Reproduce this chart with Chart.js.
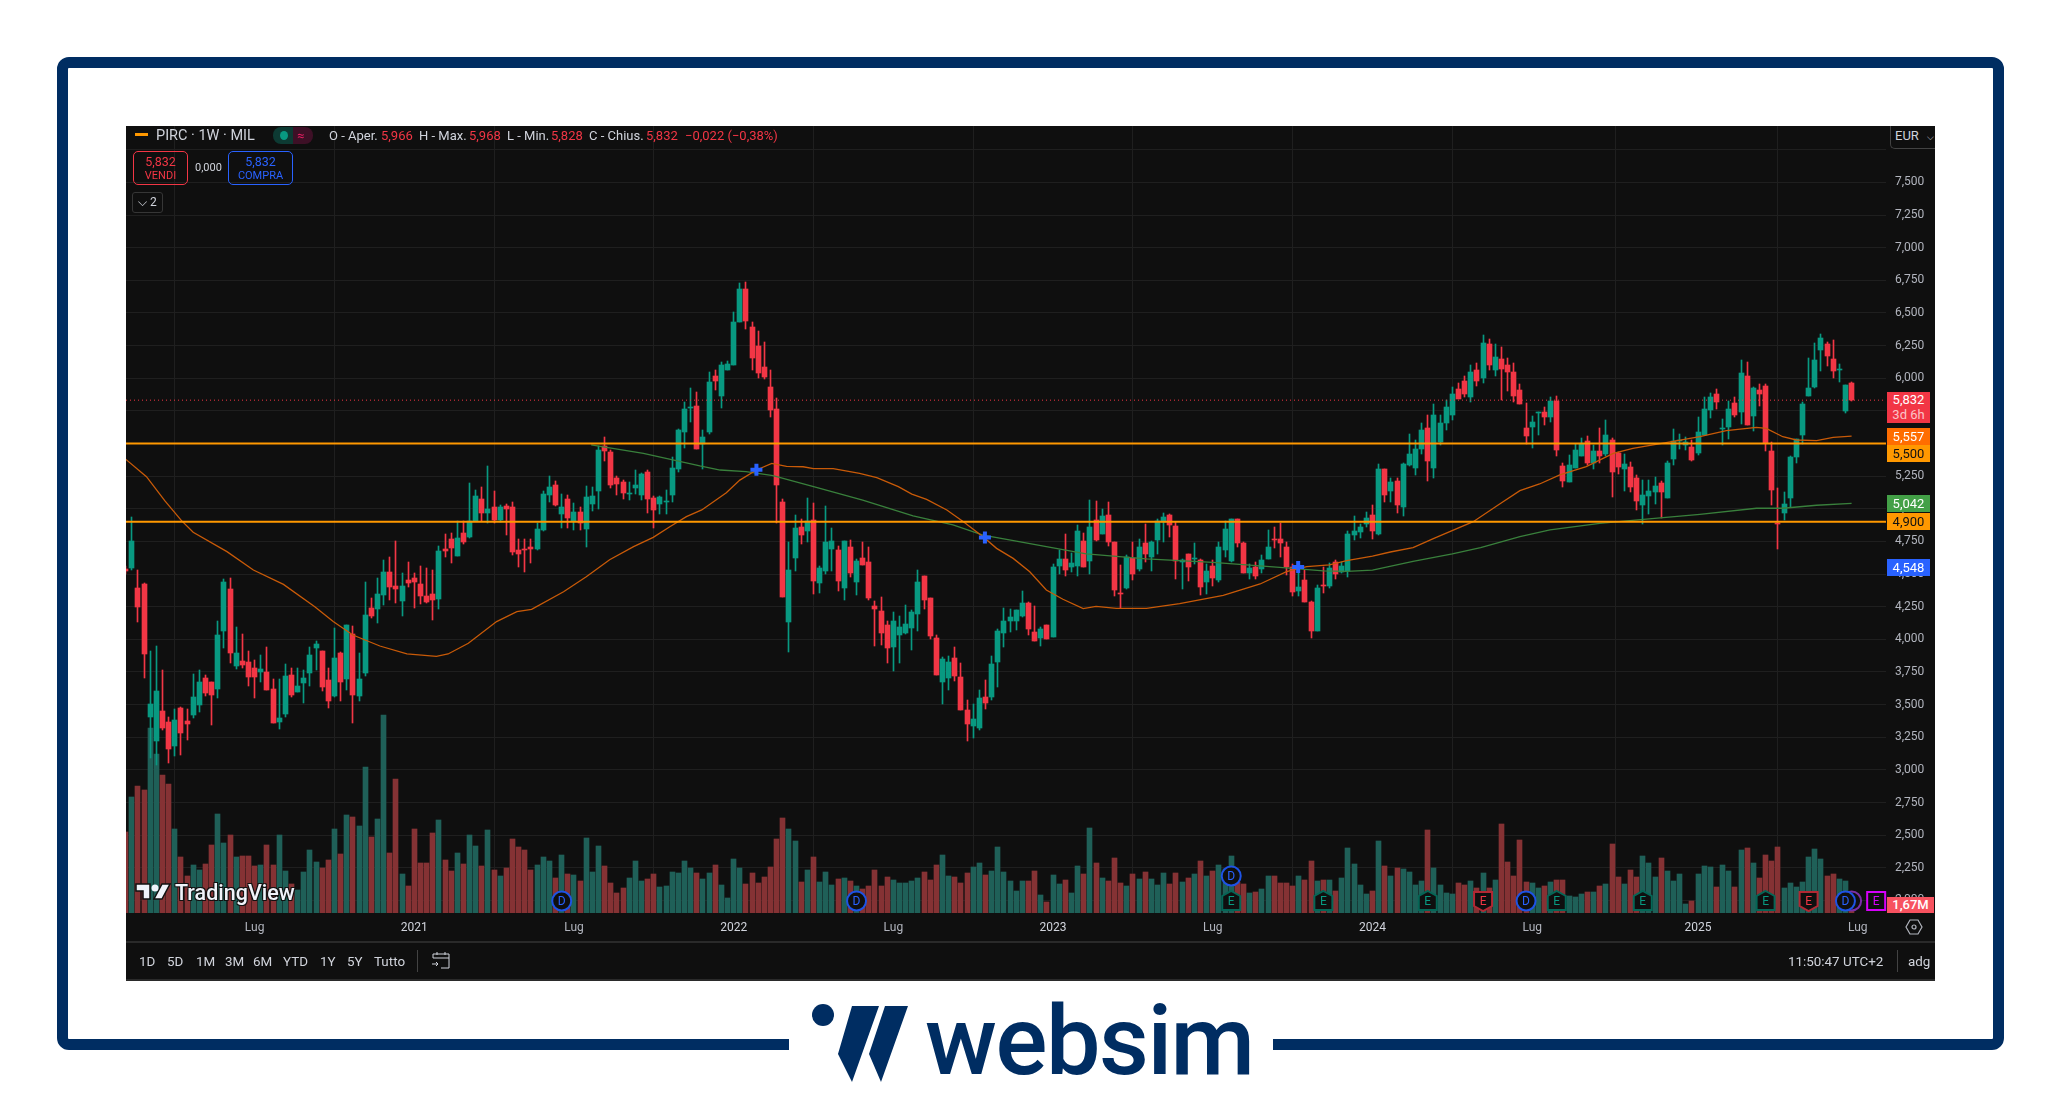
<!DOCTYPE html>
<html>
<head>
<meta charset="utf-8">
<title>PIRC 1W</title>
<script src="https://cdn.jsdelivr.net/npm/chart.js@4/dist/chart.umd.js"></script>
<style>
  html, body { margin: 0; padding: 0; background: #fff; }
  body { position: relative; width: 2061px; height: 1107px; overflow: hidden; font-family: Roboto, sans-serif; }
  .abs { position: absolute; white-space: nowrap; }
  .frame { left: 57px; top: 57px; width: 1947px; height: 993px; box-sizing: border-box; border: 11px solid #002d62; border-radius: 12px; }
  .gap { left: 789px; top: 1030px; width: 484px; height: 30px; background: #fff; }
  .panel { left: 126px; top: 126px; width: 1809px; height: 855px; background: #0f0f0f; }
  #chart { position: absolute; left: 126px; top: 126px; }
  .hd { top: 128px; font-size: 13px; line-height: 15px; color: #d1d4dc; }
  .hd.r { color: #f23645; }
  .tool { top: 954px; font-size: 13.4px; line-height: 15px; color: #d1d4dc; }
  .tag { left: 1887px; width: 43px; text-align: center; font-size: 13px; line-height: 17px; color: #fff; }
  .box { box-sizing: border-box; border-radius: 5px; text-align: center; font-size: 11px; line-height: 13px; padding-top: 3px; }
  .brand { left: 925px; top: 983px; font-size: 97px; line-height: 116px; font-weight: 500; color: #002d62; letter-spacing: -1.5px; }
  .tv { left: 175px; top: 880px; font-size: 21.5px; line-height: 26px; font-weight: 500; color: #f0f3fa; text-shadow: -1px -1px 0 #111, 1px -1px 0 #111, -1px 1px 0 #111, 1px 1px 0 #111; }
</style>
</head>
<body>
<div class="abs frame"></div>
<div class="abs gap"></div>
<div class="abs panel"></div>
<canvas id="chart" width="1809" height="855"></canvas>

<!-- header -->
<svg class="abs" style="left:131px;top:127px" width="22" height="16"><rect x="4" y="6" width="13" height="3" fill="#ff9800"/></svg>
<div class="abs hd" style="left:156px;font-size:14.5px;color:#d1d4dc">PIRC · 1W · MIL</div>
<div class="abs" style="left:273px;top:127px;width:20px;height:17px;background:#0d3a33;border-radius:8px 0 0 8px"></div>
<div class="abs" style="left:293px;top:127px;width:20px;height:17px;background:#3d1026;border-radius:0 8px 8px 0"></div>
<div class="abs" style="left:280px;top:131px;width:8px;height:9px;background:#089981;border-radius:50%"></div>
<div class="abs hd" style="left:297px;color:#e91e63">≈</div>
<div class="abs hd" style="left:329px">O - Aper.</div><div class="abs hd r" style="left:381px">5,966</div>
<div class="abs hd" style="left:419px">H - Max.</div><div class="abs hd r" style="left:469px">5,968</div>
<div class="abs hd" style="left:507px">L - Min.</div><div class="abs hd r" style="left:551px">5,828</div>
<div class="abs hd" style="left:589px">C - Chius.</div><div class="abs hd r" style="left:646px">5,832</div>
<div class="abs hd r" style="left:685px">−0,022 (−0,38%)</div>

<div class="abs box" style="left:133px;top:151px;width:55px;height:34px;border:1px solid #f23645;color:#f23645"><span style="font-size:12.5px">5,832</span><br>VENDI</div>
<div class="abs" style="left:195px;top:161px;font-size:11px;line-height:14px;color:#d1d4dc">0,000</div>
<div class="abs box" style="left:228px;top:151px;width:65px;height:34px;border:1px solid #2962ff;color:#2962ff"><span style="font-size:12.5px">5,832</span><br>COMPRA</div>
<div class="abs box" style="left:132px;top:192px;width:31px;height:21px;border:1px solid #363636;border-radius:3px;color:#d1d4dc;font-size:12px">⌵ 2</div>

<div class="abs" style="left:1890px;top:126px;width:45px;height:23px;box-sizing:border-box;background:#0f0f0f;border:1px solid #434343;border-top:0;border-right:0;border-radius:0 0 0 5px;color:#d1d4dc;font-size:13px;line-height:20px;padding-left:4px">EUR <span style="margin-left:5px;font-size:9px">⌵</span></div>

<!-- price tags -->
<div class="abs tag" style="top:392px;height:31px;background:#f23645;line-height:15px">5,832<br><span style="color:#fbc4c8">3d 6h</span></div>
<div class="abs tag" style="top:428px;height:17px;background:#ff6d00">5,557</div>
<div class="abs tag" style="top:445px;height:17px;background:#ff9800;color:#111">5,500</div>
<div class="abs tag" style="top:495px;height:17px;background:#43a047">5,042</div>
<div class="abs tag" style="top:513px;height:17px;background:#ff9800;color:#111">4,900</div>
<div class="abs tag" style="top:559px;height:17px;background:#2962ff">4,548</div>
<div class="abs tag" style="top:897px;height:16px;width:47px;background:#f7525f;line-height:16px;font-weight:500">1,67M</div>
<svg class="abs" style="left:1905px;top:918px" width="18" height="18"><path d="M5 2 H13 L17 9 L13 16 H5 L1 9 Z" fill="none" stroke="#b2b5be" stroke-width="1.2"/><circle cx="9" cy="9" r="2" fill="none" stroke="#b2b5be" stroke-width="1.2"/></svg>

<!-- tradingview mark -->
<svg class="abs" style="left:135px;top:881px" width="36" height="22"><path d="M1 3 H15 V18 H8 V10 H1 Z M27 3 H35 L27 18 H19 Z" fill="#f0f3fa" stroke="#111" stroke-width="1.5"/><circle cx="20" cy="7" r="3.5" fill="#f0f3fa"/></svg>
<div class="abs tv">TradingView</div>

<!-- bottom toolbar -->
<div class="abs" style="left:126px;top:941px;width:1809px;height:2px;background:#2a2a2a"></div>
<div class="abs" style="left:126px;top:979px;width:1809px;height:2px;background:#2a2a2a"></div>
<div class="abs tool" style="left:139px">1D</div>
<div class="abs tool" style="left:167px">5D</div>
<div class="abs tool" style="left:196px">1M</div>
<div class="abs tool" style="left:225px">3M</div>
<div class="abs tool" style="left:253px">6M</div>
<div class="abs tool" style="left:283px">YTD</div>
<div class="abs tool" style="left:320px">1Y</div>
<div class="abs tool" style="left:347px">5Y</div>
<div class="abs tool" style="left:374px">Tutto</div>
<div class="abs" style="left:417px;top:950px;width:1px;height:22px;background:#434343"></div>
<svg class="abs" style="left:431px;top:951px" width="20" height="19"><path d="M2 7 V3 H18 V17 H10 M2 7 H18 M6 1 V4 M14 1 V4 M1 13 H7 M5 11 L7 13 L5 15" fill="none" stroke="#d1d4dc" stroke-width="1"/></svg>
<div class="abs tool" style="left:1788px">11:50:47 UTC+2</div>
<div class="abs" style="left:1897px;top:950px;width:1px;height:22px;background:#434343"></div>
<div class="abs tool" style="left:1908px">adg</div>

<!-- brand -->
<svg class="abs" style="left:805px;top:1000px" width="110" height="90">
  <circle cx="18" cy="15" r="11" fill="#002d62"/>
  <path d="M47 6 H74 L47 82 L33 54 Z M80 6 H103 L76 82 L64 54 Z" fill="#002d62"/>
</svg>
<div class="abs brand">websim</div>

<script>
const opens = [
  4.54,4.546,4.393,4.424,3.405,3.222,3.451,3.367,3.183,3.474,
  3.375,3.421,3.497,3.704,3.673,3.62,4.064,4.386,3.796,3.834,
  3.827,3.781,3.75,3.75,3.62,3.367,3.428,3.727,3.597,3.666,
  3.742,3.934,3.911,3.689,3.566,3.896,3.696,4.041,3.566,3.742,
  4.24,4.233,4.34,4.516,4.409,4.294,4.455,4.47,4.424,4.332,
  4.347,4.309,4.692,4.768,4.638,4.815,4.784,4.906,5.075,4.965,
  5.016,4.916,5.024,5.016,4.684,4.692,4.705,4.692,4.837,5.105,
  5.182,4.957,5.075,4.906,4.978,4.845,5.037,5.136,5.481,5.435,
  5.236,5.205,5.118,5.159,5.106,5.282,5.083,5.037,5.055,5.106,
  5.305,5.588,5.775,5.787,5.496,5.588,6.017,5.864,6.063,6.101,
  6.431,6.683,6.392,6.247,6.086,5.933,5.764,5.052,4.133,4.623,
  4.861,4.83,4.914,4.432,4.523,4.692,4.684,4.393,4.707,4.439,
  4.623,4.592,4.255,4.217,4.11,3.941,4.034,4.049,4.087,4.194,
  4.485,4.317,4.01,3.673,3.704,3.857,3.712,3.459,3.336,3.321,
  3.559,3.559,3.827,4.049,4.141,4.141,4.179,4.278,4.056,4.01,
  4.11,4.018,4.562,4.615,4.554,4.562,4.753,4.6,4.914,4.807,
  4.953,4.746,4.353,4.393,4.623,4.539,4.738,4.631,4.761,4.899,
  4.953,4.868,4.592,4.654,4.617,4.608,4.439,4.562,4.455,4.684,
  4.6,4.922,4.738,4.508,4.554,4.539,4.616,4.771,4.769,4.707,
  4.554,4.37,4.455,4.286,4.064,4.413,4.409,4.592,4.516,4.523,
  4.799,4.822,4.884,4.953,4.807,5.305,5.136,5.213,5.014,5.335,
  5.312,5.458,5.62,5.312,5.51,5.66,5.72,5.92,5.98,5.86,
  6.06,6.0,6.26,6.06,6.147,6.101,6.048,5.91,5.619,5.626,
  5.737,5.739,5.703,5.826,5.328,5.205,5.312,5.404,5.519,5.351,
  5.443,5.42,5.527,5.427,5.305,5.32,5.236,5.029,5.098,5.129,
  5.198,5.083,5.381,5.525,5.489,5.473,5.427,5.565,5.757,5.879,
  5.617,5.626,5.81,5.741,6.017,5.711,5.91,5.941,5.443,4.888,
  4.968,5.083,5.397,5.565,5.864,5.933,6.216,6.262,6.147,6.069,
  5.749,5.966
];
const highs = [
  4.56,4.935,4.531,4.43,3.91,3.949,3.763,3.403,3.464,3.479,
  3.466,3.735,3.763,3.727,3.673,4.141,4.462,4.47,4.095,4.041,
  3.911,3.842,3.88,3.942,3.696,3.696,3.811,3.778,3.781,3.765,
  3.942,3.987,3.911,3.781,4.087,3.903,4.11,4.102,3.896,4.439,
  4.317,4.47,4.608,4.631,4.753,4.508,4.592,4.508,4.562,4.547,
  4.531,4.715,4.807,4.815,4.906,4.906,5.195,5.144,5.17,5.328,
  5.136,5.03,5.04,5.055,4.766,4.768,4.768,4.889,5.139,5.251,
  5.215,5.112,5.105,5.042,5.016,5.175,5.17,5.483,5.55,5.45,
  5.251,5.22,5.205,5.297,5.274,5.297,5.098,5.098,5.144,5.397,
  5.611,5.818,5.925,5.895,5.604,6.048,6.063,6.124,6.132,6.507,
  6.729,6.737,6.431,6.362,6.277,6.063,5.849,5.075,4.746,4.953,
  4.922,5.083,5.044,4.562,5.021,4.853,4.715,4.753,4.761,4.615,
  4.746,4.707,4.294,4.324,4.141,4.21,4.179,4.263,4.225,4.531,
  4.485,4.317,4.033,3.865,3.873,3.942,3.819,3.536,3.505,3.612,
  3.689,3.873,4.079,4.24,4.233,4.225,4.37,4.286,4.255,4.095,
  4.11,4.577,4.684,4.807,4.661,4.876,4.815,5.067,5.06,5.0,
  5.052,4.746,4.57,4.646,4.746,4.769,4.884,4.753,4.922,4.968,
  4.96,4.899,4.616,4.654,4.738,4.616,4.577,4.608,4.746,4.907,
  4.922,4.922,4.746,4.577,4.592,4.646,4.838,4.861,4.891,4.746,
  4.577,4.57,4.531,4.294,4.416,4.554,4.585,4.608,4.595,4.83,
  4.945,4.884,4.976,5.029,5.343,5.305,5.236,5.236,5.351,5.57,
  5.53,5.66,5.72,5.8,5.72,5.83,5.93,5.96,6.02,6.1,
  6.12,6.33,6.3,6.26,6.242,6.152,6.119,5.956,5.808,5.711,
  5.739,5.777,5.854,5.864,5.348,5.412,5.496,5.542,5.558,5.489,
  5.619,5.68,5.542,5.435,5.42,5.358,5.259,5.221,5.221,5.244,
  5.213,5.366,5.611,5.573,5.547,5.527,5.703,5.854,5.884,5.918,
  5.688,5.826,5.854,6.14,6.124,5.935,5.956,5.956,5.512,5.159,
  5.129,5.404,5.535,5.818,6.155,6.27,6.339,6.277,6.293,6.109,
  5.948,5.968
];
const lows = [
  4.5,4.53,4.133,3.707,3.09,3.038,3.306,3.053,3.107,3.114,
  3.229,3.395,3.444,3.566,3.344,3.551,3.934,3.819,3.773,3.781,
  3.643,3.551,3.673,3.612,3.36,3.314,3.405,3.559,3.597,3.513,
  3.643,3.765,3.604,3.474,3.559,3.528,3.612,3.36,3.528,3.719,
  4.164,4.125,4.263,4.301,4.278,4.179,4.4,4.24,4.271,4.278,
  4.148,4.233,4.631,4.585,4.638,4.73,4.78,4.906,4.91,4.89,
  4.89,4.9,4.8,4.646,4.551,4.516,4.585,4.685,4.83,5.05,
  5.02,4.853,4.853,4.838,4.838,4.71,4.98,5.0,5.366,5.159,
  5.106,5.075,5.067,5.113,5.067,4.968,4.853,4.96,4.96,5.052,
  5.282,5.466,5.665,5.458,5.305,5.573,5.91,5.772,6.063,6.1,
  6.431,6.377,6.063,6.002,5.994,5.703,4.891,4.324,3.903,4.524,
  4.73,4.746,4.347,4.355,4.5,4.524,4.37,4.301,4.478,4.34,
  4.57,4.301,3.949,3.957,3.819,3.757,3.819,4.041,3.918,4.064,
  4.232,4.003,3.727,3.505,3.612,3.681,3.459,3.222,3.244,3.306,
  3.467,3.536,3.635,3.941,4.056,4.072,4.171,4.033,3.987,3.949,
  4.003,4.018,4.5,4.485,4.516,4.485,4.554,4.5,4.753,4.807,
  4.715,4.332,4.24,4.386,4.455,4.524,4.592,4.524,4.654,4.746,
  4.784,4.462,4.386,4.447,4.577,4.34,4.347,4.409,4.439,4.631,
  4.592,4.707,4.508,4.462,4.462,4.508,4.616,4.7,4.631,4.493,
  4.332,4.332,4.286,4.01,4.064,4.355,4.393,4.462,4.508,4.478,
  4.761,4.776,4.861,4.769,4.799,5.052,5.052,4.968,4.945,5.328,
  5.259,5.42,5.213,5.237,5.49,5.6,5.68,5.86,5.86,5.82,
  5.94,5.96,6.06,6.02,5.833,5.9,5.82,5.8,5.499,5.466,
  5.565,5.642,5.665,5.404,5.167,5.205,5.312,5.404,5.335,5.305,
  5.351,5.404,5.09,5.266,5.134,5.129,4.991,4.884,4.96,5.037,
  4.93,5.083,5.335,5.458,5.45,5.366,5.412,5.565,5.695,5.764,
  5.489,5.535,5.703,5.65,5.642,5.596,5.787,5.443,5.029,4.692,
  4.914,5.014,5.351,5.496,5.864,5.925,6.055,6.094,6.0,5.971,
  5.734,5.828
];
const closes = [
  4.52,4.753,4.248,3.888,3.505,3.605,3.321,3.16,3.382,3.283,
  3.352,3.559,3.673,3.587,3.574,4.033,4.439,3.896,3.896,3.804,
  3.712,3.712,3.773,3.612,3.36,3.398,3.719,3.574,3.643,3.704,
  3.88,3.965,3.635,3.528,3.857,3.673,4.11,3.574,3.696,4.187,
  4.179,4.347,4.516,4.401,4.386,4.409,4.432,4.439,4.332,4.286,
  4.301,4.677,4.677,4.7,4.776,4.746,4.906,5.098,4.965,4.998,
  4.914,5.016,4.998,4.672,4.654,4.688,4.69,4.845,5.113,5.164,
  5.029,5.016,4.93,4.978,4.89,5.093,5.098,5.45,5.443,5.182,
  5.19,5.121,5.122,5.182,5.266,5.075,4.991,5.09,5.06,5.312,
  5.604,5.764,5.78,5.458,5.55,5.971,5.979,6.101,6.109,6.431,
  6.683,6.438,6.155,6.04,6.009,5.757,5.182,4.324,4.531,4.853,
  4.799,4.906,4.447,4.546,4.746,4.753,4.447,4.753,4.508,4.6,
  4.57,4.317,4.232,4.049,3.934,4.141,4.095,4.118,4.21,4.439,
  4.301,4.026,3.727,3.85,3.827,3.719,3.459,3.352,3.39,3.551,
  3.513,3.811,4.064,4.141,4.171,4.225,4.278,4.079,3.987,4.079,
  4.003,4.554,4.615,4.531,4.585,4.83,4.554,4.861,4.761,4.945,
  4.746,4.378,4.345,4.631,4.501,4.707,4.654,4.746,4.907,4.937,
  4.876,4.6,4.608,4.554,4.62,4.401,4.523,4.47,4.707,4.845,
  4.922,4.738,4.508,4.547,4.485,4.608,4.707,4.76,4.738,4.554,
  4.363,4.401,4.286,4.064,4.393,4.409,4.547,4.501,4.562,4.807,
  4.83,4.861,4.93,4.83,5.305,5.106,5.205,5.029,5.343,5.42,
  5.458,5.6,5.366,5.72,5.66,5.78,5.88,5.84,5.88,6.05,
  5.98,6.27,6.1,6.16,6.071,6.048,5.864,5.803,5.558,5.665,
  5.741,5.703,5.826,5.45,5.213,5.335,5.45,5.496,5.351,5.443,
  5.404,5.565,5.282,5.32,5.343,5.167,5.06,5.106,5.136,5.175,
  5.129,5.351,5.519,5.529,5.512,5.374,5.588,5.764,5.856,5.818,
  5.621,5.764,5.718,6.04,5.642,5.925,5.879,5.504,5.144,4.88,
  5.037,5.397,5.535,5.803,5.925,6.14,6.308,6.17,6.055,6.073,
  5.948,5.832
];
// volumi in milioni
const volumes = [
  40.3,57.8,63.3,61.3,92.3,79.3,68.8,64.3,41.8,27.8,
  18.3,23.8,21.3,24.3,33.8,49.3,34.8,38.8,27.8,28.3,
  28.3,23.3,23.8,33.8,23.8,38.8,20.8,14.3,11.3,20.3,
  31.3,25.3,22.3,26.3,41.8,29.3,48.8,47.8,43.3,72.8,
  37.8,46.8,98.8,29.8,66.8,19.3,13.3,41.8,24.8,24.8,
  39.8,46.3,26.3,20.8,29.8,24.3,38.8,33.3,23.3,41.3,
  21.3,18.3,22.3,36.8,32.8,31.3,21.3,23.8,27.8,25.8,
  17.3,28.8,19.3,18.8,15.8,37.3,20.3,33.3,23.3,14.8,
  9.8,12.3,17.3,26,16.2,17,19.5,13.2,13.5,20.5,
  20.2,26.2,22.3,19.8,17,20.2,24.2,14,7.7,27,
  22.5,14.3,20.2,15.2,17.8,22.8,37,47.6,42,36,
  15.5,21.5,28,15.5,20.5,14,17,17.5,16,13.5,
  12,13.5,21.5,13.5,18,16.5,15,15,16,17.5,
  20.5,16.5,24,29,18.5,18,15,20,23,25,
  19,21,33,20.5,16,11,16,16,21,9,
  5.5,19,14.5,16.5,10,23.5,19.5,42.5,25,17.5,
  16,27.5,15,13.5,19.5,17,20.5,17,14,20,
  14.5,20,15.5,17.5,19.5,26,18.5,21,24,22,
  28.5,15.5,14.5,10,10.5,12,18.5,18.5,15,15,
  13.5,18.5,16.5,26,16,16.5,16.5,11,17.5,32.5,
  24.5,14,9.5,11,36,23.5,18.5,22.5,22,20.5,
  14,16,41.5,22.5,14,10,9.5,15,14,16,
  12.5,20,12.5,16.5,44.5,25.5,18.5,36.5,15.5,15,
  12.5,13.5,15.5,16.5,16.5,8.5,8,9.5,10.5,10.5,
  13.5,14.5,34.5,18,14.5,21.5,18,28.5,25,18,
  27.5,21,16,19.5,4.5,6,19.5,23.5,23,13,
  24,21,13,31.5,32.5,25,17.5,29,26,33,
  12.5,15,13,15.5,28,32,27,18.5,19.5,17,
  16,1.67
];

// medie mobili lette a punti (indice barra, valore)
const orangeBars = [0,3.4,6.4,9.1,11,16.5,20.8,25.7,30.8,33.8,37,41.4,45.8,50.6,52.5,55.8,60.4,63.7,66.1,71.3,75,78.8,82.7,85.9,88.6,91.3,93.8,97.8,100,102.7,105.2,107.6,110.3,112,115.2,119.5,122.3,125.8,128,130.4,133.7,136.4,139.6,141.8,144.5,147.2,149.9,152.6,155.9,158,161.3,166.2,171.6,178.7,184.7,189,192.3,196,198.8,203,205.9,209.6,213,219.4,223.7,227,230.2,233.5,237.8,242.2,245.4,250.8,256.3,260.6,265.5,267.1,269.8,272,275.3,278,281];
const orangeMa = [5.38,5.246,5.06,4.909,4.82,4.672,4.531,4.421,4.25,4.136,4.033,3.949,3.888,3.87,3.888,3.97,4.136,4.212,4.23,4.365,4.48,4.61,4.71,4.781,4.863,4.94,4.991,5.123,5.22,5.297,5.348,5.325,5.322,5.307,5.307,5.272,5.238,5.17,5.113,5.072,4.991,4.901,4.786,4.697,4.62,4.518,4.378,4.307,4.235,4.253,4.238,4.238,4.273,4.337,4.424,4.518,4.557,4.57,4.603,4.638,4.669,4.702,4.774,4.901,5.037,5.139,5.19,5.259,5.323,5.425,5.463,5.506,5.552,5.598,5.624,5.616,5.552,5.527,5.522,5.547,5.557];
const greenBars = [75.8,84.3,93.5,96.8,101,105.4,112,120,128.2,134.7,139.6,145,149.9,156.4,166.2,177,187.9,195,198.8,203,209.6,216,220.6,227,231.9,240,247.1,256.3,265.5,269.8,275.3,281];
const greenMa = [5.49,5.425,5.328,5.297,5.284,5.254,5.17,5.067,4.945,4.876,4.799,4.753,4.71,4.654,4.616,4.59,4.552,4.524,4.521,4.531,4.598,4.654,4.702,4.786,4.838,4.889,4.919,4.958,5.004,5.004,5.027,5.042];

const crossBars = [102.7, 139.9, 190.9];
const crossValues = [5.3, 4.78, 4.555];
const hLevels = [5.5, 4.9];
const lastPrice = 5.832;

const priceTicks = [2,2.25,2.5,2.75,3,3.25,3.5,3.75,4,4.25,4.5,4.75,5,5.25,5.5,5.75,6,6.25,6.5,6.75,7,7.25,7.5,7.75];
const timeTickBars = [21,47,73,99,125,151,177,203,229,256,282];
const timeTickLabels = ['Lug','2021','Lug','2022','Lug','2023','Lug','2024','Lug','2025','Lug'];

// bar, tipo, riga
const eventBars = [71,119,180,180,195,212,221,228,233,247,267,274,281,280,285];
const eventKinds = ['D','D','D','E','E','E','R','D','E','E','E','R','P','D','M'];
const eventRows = [0,0,1,0,0,0,0,0,0,0,0,0,0,0,0];

const GREEN = '#089981';
const RED = '#f23645';
const BG = '#0f0f0f';
const xMin = 0.065;
const xMax = 286.6;

const isUp = i => closes[i] >= opens[i];
const candleColors = opens.map((_, i) => isUp(i) ? GREEN : RED);
const volumeColors = opens.map((_, i) => isUp(i) ? '#1f6058' : '#853234');
const points = (xs, ys) => xs.map((x, i) => ({ x, y: ys[i] }));

// niente margini per le etichette: il pannello arriva fino al bordo
const noPadding = axis => {
  axis.paddingLeft = axis.paddingRight = axis.paddingTop = axis.paddingBottom = 0;
};

// allinea barre e stoppini ai pixel interi come il grafico originale
const snapBars = {
  id: 'snapBars',
  beforeDatasetsDraw(chart) {
    chart.data.datasets.forEach((ds, d) => {
      if (ds.type !== 'bar') return;
      chart.getDatasetMeta(d).data.forEach(el => {
        el.x = Math.floor(el.x) + 0.5;
        el.y = Math.round(el.y);
        el.base = Math.round(el.base);
        if (el.y === el.base) el.base = el.y + 1;
      });
    });
  }
};

const eventBadges = {
  id: 'eventBadges',
  afterDatasetsDraw(chart) {
    const { ctx, scales } = chart;
    const bottom = chart.chartArea.bottom;
    ctx.save();
    ctx.textAlign = 'center';
    ctx.textBaseline = 'middle';
    ctx.font = '12px Roboto';
    eventBars.forEach((bar, i) => {
      const kind = eventKinds[i];
      const x = scales.x.getPixelForValue(bar);
      const y = bottom - 12 - eventRows[i] * 25;
      ctx.lineWidth = 2;
      ctx.fillStyle = BG;
      ctx.beginPath();
      if (kind === 'D' || kind === 'P') {
        ctx.strokeStyle = kind === 'D' ? '#1e53e5' : '#7b2fa8';
        ctx.arc(x, y, 9.5, 0, Math.PI * 2);
      } else if (kind === 'E') {
        ctx.strokeStyle = '#056656';
        ctx.moveTo(x, y - 10);
        ctx.lineTo(x + 9, y - 5);
        ctx.lineTo(x + 9, y + 9);
        ctx.lineTo(x - 9, y + 9);
        ctx.lineTo(x - 9, y - 5);
        ctx.closePath();
      } else if (kind === 'R') {
        ctx.strokeStyle = '#b22833';
        ctx.moveTo(x - 9, y - 9);
        ctx.lineTo(x + 9, y - 9);
        ctx.lineTo(x + 9, y + 5);
        ctx.lineTo(x, y + 10);
        ctx.lineTo(x - 9, y + 5);
        ctx.closePath();
      } else {
        ctx.strokeStyle = '#d500f9';
        ctx.rect(x - 9, y - 9, 18, 18);
      }
      ctx.fill();
      ctx.stroke();
      if (kind !== 'P') {
        ctx.fillStyle = { D: '#2962ff', E: GREEN, R: RED, M: '#d500f9' }[kind];
        ctx.fillText(kind === 'D' ? 'D' : 'E', x, y + 1);
      }
    });
    ctx.restore();
  }
};

new Chart(document.getElementById('chart').getContext('2d'), {
  type: 'bar',
  plugins: [snapBars, eventBadges],
  data: {
    datasets: [
      {
        type: 'bar', yAxisID: 'vol', order: 10, grouped: false, barThickness: 5,
        data: points(opens.map((_, i) => i), volumes),
        backgroundColor: volumeColors
      },
      {
        type: 'bar', order: 6, grouped: false, barThickness: 1,
        data: opens.map((_, i) => ({ x: i, y: [lows[i], highs[i]] })),
        backgroundColor: candleColors
      },
      {
        type: 'bar', order: 5, grouped: false, barThickness: 5,
        data: opens.map((_, i) => ({ x: i, y: [opens[i], closes[i]] })),
        backgroundColor: candleColors
      },
      {
        type: 'line', order: 4, data: points(orangeBars, orangeMa),
        borderColor: '#c85a08', borderWidth: 1.3, pointRadius: 0
      },
      {
        type: 'line', order: 4, data: points(greenBars, greenMa),
        borderColor: '#39803c', borderWidth: 1.3, pointRadius: 0
      },
      {
        type: 'line', order: 3, data: [{ x: xMin, y: lastPrice }, { x: xMax, y: lastPrice }],
        borderColor: RED, borderWidth: 1, borderDash: [1, 3], pointRadius: 0
      },
      ...hLevels.map(level => ({
        type: 'line', order: 2, data: [{ x: xMin, y: level }, { x: xMax, y: level }],
        borderColor: '#ff9800', borderWidth: 2, pointRadius: 0
      })),
      {
        type: 'line', order: 1, showLine: false, data: points(crossBars, crossValues),
        pointStyle: 'cross', pointRadius: 6, pointBorderWidth: 4, pointBorderColor: '#2962ff'
      }
    ]
  },
  options: {
    responsive: false,
    animation: false,
    devicePixelRatio: 1,
    layout: { padding: 0, autoPadding: false },
    plugins: { legend: { display: false }, tooltip: { enabled: false } },
    scales: {
      x: {
        type: 'linear',
        min: xMin,
        max: xMax,
        offset: false,
        border: { display: false },
        grid: { color: '#1f1f1f', drawTicks: false },
        afterBuildTicks: axis => { axis.ticks = timeTickBars.map(value => ({ value })); },
        afterFit: axis => { axis.height = 68; noPadding(axis); },
        ticks: {
          autoSkip: false,
          maxRotation: 0,
          padding: 8,
          color: ctx => /\d/.test(timeTickLabels[ctx.index]) ? '#d1d4dc' : '#b2b5be',
          font: { family: 'Roboto', size: 12 },
          callback: (v, i) => timeTickLabels[i]
        }
      },
      y: {
        position: 'right',
        min: 1.904,
        max: 7.932,
        border: { display: false },
        grid: { color: '#1f1f1f', drawTicks: false },
        afterBuildTicks: axis => { axis.ticks = priceTicks.map(value => ({ value })); },
        afterFit: axis => { axis.width = 49; noPadding(axis); },
        ticks: {
          autoSkip: false,
          padding: 9,
          color: '#b2b5be',
          font: { family: 'Roboto', size: 12 },
          // la 7,750 resta coperta dal pulsante EUR
          callback: v => v > 7.6 ? '' : v.toFixed(3).replace('.', ',')
        }
      },
      vol: { display: false, min: 0, max: 393.5, afterFit: noPadding }
    }
  }
});
</script>
</body>
</html>
